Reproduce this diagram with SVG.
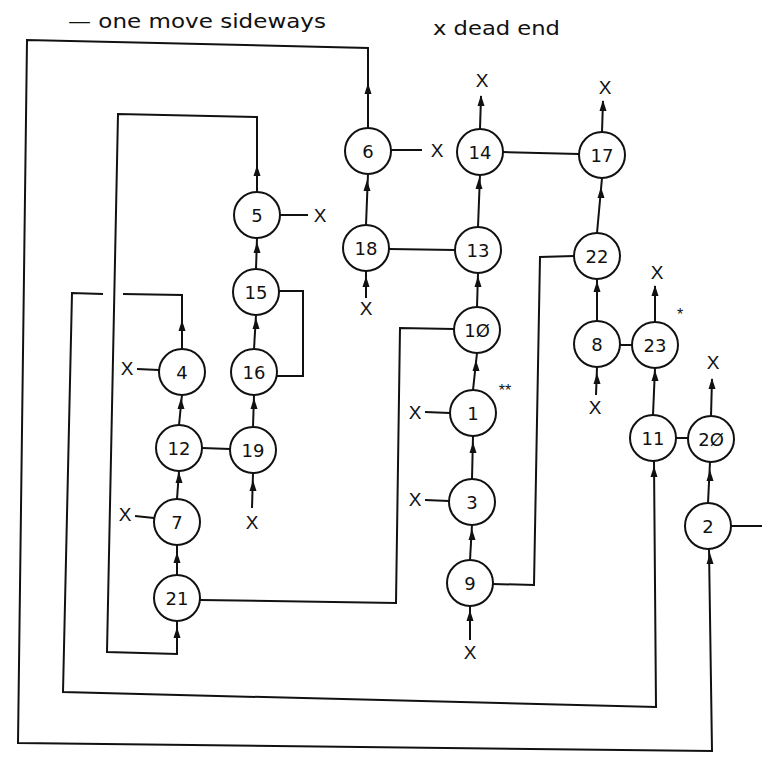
<svg xmlns="http://www.w3.org/2000/svg" xmlns:xlink="http://www.w3.org/1999/xlink" width="772" height="762" viewBox="0 0 772 762">
  <style>
    .bg { fill: #fff; }
    .ln { fill: none; stroke: #111; stroke-width: 2; stroke-linejoin: miter; }
    .nd circle { fill: #fff; stroke: #111; stroke-width: 2; }
    .nd text { font-family: "DejaVu Sans", "Liberation Sans", sans-serif; font-size: 18px; fill: #111; text-anchor: middle; }
    .x { font-family: "Liberation Sans", "DejaVu Sans", sans-serif; font-size: 19px; fill: #111; text-anchor: middle; }
    .legend { font-family: "DejaVu Sans", "Liberation Sans", sans-serif; font-size: 20px; fill: #111; }
    .star { font-family: "Liberation Sans", sans-serif; font-size: 16px; fill: #111; }
    .ah { fill: #111; }
  </style>
  <defs>
    <!-- upward arrowhead, tip at the origin -->
    <path id="ah" class="ah" d="M0,0 L3.5,11 L-3.5,11 Z"/>
  </defs>

  <rect class="bg" x="0" y="0" width="772" height="762"/>

  <!-- legend -->
  <g id="legend">
    <text class="legend" x="68" y="28" textLength="258" lengthAdjust="spacingAndGlyphs">— one move sideways</text>
    <text class="legend" x="433" y="35" textLength="127" lengthAdjust="spacingAndGlyphs">x dead end</text>
  </g>

  <!-- connectors -->
  <g id="connectors">
    <!-- long return loops -->
    <path class="ln" d="M368,128 V48 L27,40 L18,743 L712,751 L709,549"/>
    <path class="ln" d="M182,349 V295 L123,294 M103,294 L72,293 L63,692 L656,707 L654,461"/>
    <path class="ln" d="M257,192 V117 L118,114 L107,652 L177,654 V621"/>
    <!-- sideways moves -->
    <path class="ln" d="M200,600 L396,603 L400,328 L454,329"/>
    <path class="ln" d="M493,584 L534,585 L540,257 L574,256"/>
    <path class="ln" d="M279,291 H303 V376 H277"/>
    <path class="ln" d="M389,249 L455,250"/>
    <path class="ln" d="M503,152 L579,154"/>
    <path class="ln" d="M202,448 L230,449"/>
    <path class="ln" d="M620,345 L632,345"/>
    <path class="ln" d="M676,438 L688,438"/>
    <path class="ln" d="M731,526 L762,526"/>
    <!-- stubs to dead ends -->
    <path class="ln" d="M391,150 L422,150"/>
    <path class="ln" d="M280,215 L308,215"/>
    <path class="ln" d="M137,369 L159,370"/>
    <path class="ln" d="M135,516 L154,518"/>
    <path class="ln" d="M425,412 L450,413"/>
    <path class="ln" d="M425,500 L449,501"/>
    <!-- forward moves -->
    <path class="ln" d="M366,225 L368,174"/>
    <path class="ln" d="M478,227 L480,175"/>
    <path class="ln" d="M597,233 L602,178"/>
    <path class="ln" d="M480,129 L481,96"/>
    <path class="ln" d="M602,132 L603,101"/>
    <path class="ln" d="M366,298 L366,271"/>
    <path class="ln" d="M477,307 L478,273"/>
    <path class="ln" d="M473,390 L477,353"/>
    <path class="ln" d="M472,479 L473,436"/>
    <path class="ln" d="M470,560 L472,525"/>
    <path class="ln" d="M470,640 L470,606"/>
    <path class="ln" d="M256,269 L257,238"/>
    <path class="ln" d="M254,349 L256,315"/>
    <path class="ln" d="M253,427 L254,395"/>
    <path class="ln" d="M252,508 L253,473"/>
    <path class="ln" d="M179,425 L182,395"/>
    <path class="ln" d="M177,499 L179,471"/>
    <path class="ln" d="M177,575 L177,545"/>
    <path class="ln" d="M597,321 L597,279"/>
    <path class="ln" d="M596,395 L597,367"/>
    <path class="ln" d="M655,322 L655,286"/>
    <path class="ln" d="M653,415 L655,368"/>
    <path class="ln" d="M711,416 L712,379"/>
    <path class="ln" d="M708,503 L710,462"/>
    <!-- arrowheads -->
    <use xlink:href="#ah" x="368" y="83"/>
    <use xlink:href="#ah" x="710" y="553"/>
    <use xlink:href="#ah" x="182" y="320"/>
    <use xlink:href="#ah" x="654" y="466"/>
    <use xlink:href="#ah" x="257" y="165"/>
    <use xlink:href="#ah" x="177" y="627"/>
    <use xlink:href="#ah" x="367" y="180"/>
    <use xlink:href="#ah" x="479" y="178"/>
    <use xlink:href="#ah" x="601" y="187"/>
    <use xlink:href="#ah" x="481" y="95"/>
    <use xlink:href="#ah" x="603" y="100"/>
    <use xlink:href="#ah" x="366" y="276"/>
    <use xlink:href="#ah" x="478" y="276"/>
    <use xlink:href="#ah" x="476" y="360"/>
    <use xlink:href="#ah" x="473" y="442"/>
    <use xlink:href="#ah" x="472" y="529"/>
    <use xlink:href="#ah" x="470" y="610"/>
    <use xlink:href="#ah" x="257" y="242"/>
    <use xlink:href="#ah" x="256" y="318"/>
    <use xlink:href="#ah" x="254" y="398"/>
    <use xlink:href="#ah" x="253" y="480"/>
    <use xlink:href="#ah" x="181" y="398"/>
    <use xlink:href="#ah" x="179" y="472"/>
    <use xlink:href="#ah" x="177" y="552"/>
    <use xlink:href="#ah" x="597" y="281"/>
    <use xlink:href="#ah" x="597" y="373"/>
    <use xlink:href="#ah" x="655" y="285"/>
    <use xlink:href="#ah" x="655" y="370"/>
    <use xlink:href="#ah" x="712" y="378"/>
    <use xlink:href="#ah" x="710" y="470"/>
  </g>

  <!-- dead ends -->
  <g id="dead-ends">
    <text class="x" x="437" y="157">X</text>
    <text class="x" x="320" y="222">X</text>
    <text class="x" x="482" y="87">X</text>
    <text class="x" x="605" y="94">X</text>
    <text class="x" x="366" y="315">X</text>
    <text class="x" x="127" y="375">X</text>
    <text class="x" x="125" y="521">X</text>
    <text class="x" x="252" y="529">X</text>
    <text class="x" x="415" y="419">X</text>
    <text class="x" x="415" y="506">X</text>
    <text class="x" x="470" y="659">X</text>
    <text class="x" x="595" y="414">X</text>
    <text class="x" x="657" y="279">X</text>
    <text class="x" x="713" y="369">X</text>
  </g>

  <!-- marks -->
  <g id="marks">
    <text class="star" x="505" y="396" text-anchor="middle">**</text>
    <text class="star" x="680" y="320" text-anchor="middle">*</text>
  </g>

  <!-- positions -->
  <g id="n1" class="nd"><circle cx="473" cy="413" r="23"/><text x="473" y="420">1</text></g>
  <g id="n2" class="nd"><circle cx="708" cy="526" r="23"/><text x="708" y="533">2</text></g>
  <g id="n3" class="nd"><circle cx="472" cy="502" r="23"/><text x="472" y="509">3</text></g>
  <g id="n4" class="nd"><circle cx="182" cy="372" r="23"/><text x="182" y="379">4</text></g>
  <g id="n5" class="nd"><circle cx="257" cy="215" r="23"/><text x="257" y="222">5</text></g>
  <g id="n6" class="nd"><circle cx="368" cy="151" r="23"/><text x="368" y="158">6</text></g>
  <g id="n7" class="nd"><circle cx="177" cy="522" r="23"/><text x="177" y="529">7</text></g>
  <g id="n8" class="nd"><circle cx="597" cy="344" r="23"/><text x="597" y="351">8</text></g>
  <g id="n9" class="nd"><circle cx="470" cy="583" r="23"/><text x="470" y="590">9</text></g>
  <g id="n10" class="nd"><circle cx="477" cy="330" r="23"/><text x="477" y="337">1Ø</text></g>
  <g id="n11" class="nd"><circle cx="653" cy="438" r="23"/><text x="653" y="445">11</text></g>
  <g id="n12" class="nd"><circle cx="179" cy="448" r="23"/><text x="179" y="455">12</text></g>
  <g id="n13" class="nd"><circle cx="478" cy="250" r="23"/><text x="478" y="257">13</text></g>
  <g id="n14" class="nd"><circle cx="480" cy="152" r="23"/><text x="480" y="159">14</text></g>
  <g id="n15" class="nd"><circle cx="256" cy="292" r="23"/><text x="256" y="299">15</text></g>
  <g id="n16" class="nd"><circle cx="254" cy="372" r="23"/><text x="254" y="379">16</text></g>
  <g id="n17" class="nd"><circle cx="602" cy="155" r="23"/><text x="602" y="162">17</text></g>
  <g id="n18" class="nd"><circle cx="366" cy="248" r="23"/><text x="366" y="255">18</text></g>
  <g id="n19" class="nd"><circle cx="253" cy="450" r="23"/><text x="253" y="457">19</text></g>
  <g id="n20" class="nd"><circle cx="711" cy="439" r="23"/><text x="711" y="446">2Ø</text></g>
  <g id="n21" class="nd"><circle cx="177" cy="598" r="23"/><text x="177" y="605">21</text></g>
  <g id="n22" class="nd"><circle cx="597" cy="256" r="23"/><text x="597" y="263">22</text></g>
  <g id="n23" class="nd"><circle cx="655" cy="345" r="23"/><text x="655" y="352">23</text></g>
</svg>
